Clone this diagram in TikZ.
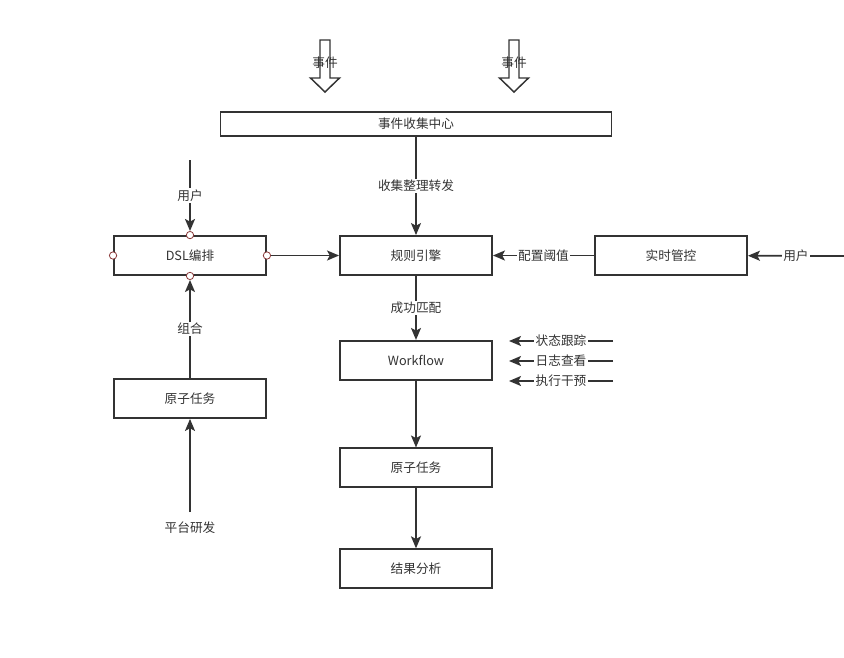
\documentclass[tikz,border=0pt]{standalone}
\usepackage{fontspec}
\setmainfont{Noto Sans CJK SC}
\usepackage{xcolor}
\usetikzlibrary{arrows.meta,positioning}
\definecolor{ink}{HTML}{333333}
\definecolor{portred}{HTML}{8B3A3A}

\begin{document}
\begin{tikzpicture}[
  x=0.75pt, y=-0.75pt,
  font=\fontsize{9.5pt}{11pt}\selectfont,
  box/.style={rectangle, draw=ink, line width=1.4pt, fill=white,
              minimum width=114pt, minimum height=29.25pt, inner sep=0pt, text=ink},
  wide/.style={box, minimum width=293.25pt, minimum height=18pt},
  lab/.style={fill=white, inner sep=1pt, text=ink},
  arr/.style={-{Stealth[length=9pt, width=7.5pt, inset=2pt]}, line width=1.3pt, ink},
  port/.style={circle, draw=portred, fill=white, line width=0.6pt,
               minimum size=5.5pt, inner sep=0pt},
  hollow/.style={draw=ink, line width=1.1pt, fill=white}]

\useasboundingbox (0,0) rectangle (844,658);

% incoming events
\foreach \x/\n in {325/ev1, 514/ev2} {
  \draw[hollow] (\x-5,40) -- (\x+5,40) -- (\x+5,78) -- (\x+14.5,78) -- (\x,92)
    -- (\x-14.5,78) -- (\x-5,78) -- cycle;
  \node[text=ink] (\n) at (\x,63) {事件};
}

\node[wide] (hub) at (416,124) {事件收集中心};
\node[box] (rule) at (416,255.5) {规则引擎};
\node[box, below=48pt of rule] (wf) {Workflow};
\node[box, below=50pt of wf] (task) {原子任务};
\node[box, below=45pt of task] (result) {结果分析};

\node[box] (dsl) at (190,255.5) {DSL编排};
\node[box] (atom) at (190,398.5) {原子任务};
\node[box] (ctrl) at (671,255.5) {实时管控};
\node[text=ink] (dev) at (190,528) {平台研发};

\coordinate (u1) at (190,160);
\coordinate (u2) at (844,256);
\foreach \y/\n in {341/1, 361/2, 381/3} {
  \coordinate (s\n) at (613,\y);
  \coordinate (e\n) at (509,\y);
}

\draw[arr] (hub) -- node[lab] {收集整理转发} (rule);
\draw[arr] (rule) -- node[lab] {成功匹配} (wf);
\draw[arr] (wf) -- (task);
\draw[arr] (task) -- (result);
\draw[arr] (ctrl) -- node[lab] {配置阈值} (rule);
\draw[arr] (u2) -- node[lab] {用户} (ctrl);
\draw[arr, shorten <=4pt] (dev) -- (atom);

\draw[arr] (s1) -- node[lab] {状态跟踪} (e1);
\draw[arr] (s2) -- node[lab] {日志查看} (e2);
\draw[arr] (s3) -- node[lab] {执行干预} (e3);

% ports of the DSL box
\foreach \a in {north, south, east, west}
  \node[port] (dsl-\a) at (dsl.\a) {};

\draw[arr] (u1) -- node[lab] {用户} (dsl-north);
\draw[arr] (atom) -- node[lab] {组合} (dsl-south);
\draw[arr] (dsl-east) -- (rule);
\end{tikzpicture}
\end{document}
